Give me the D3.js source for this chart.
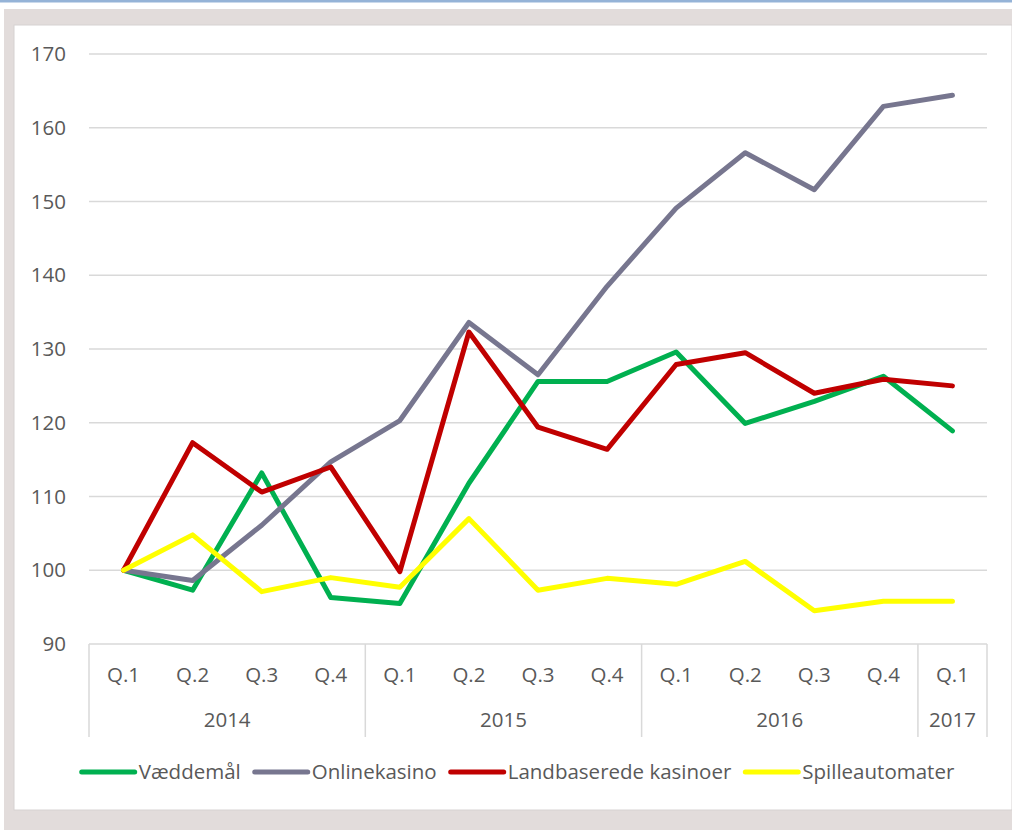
<!DOCTYPE html>
<html>
<head>
<meta charset="utf-8">
<script src="https://cdn.jsdelivr.net/npm/d3@7"></script>
<style>
  body { margin: 0; background: #fff; }
  svg { display: block; font-family: "Open Sans", "Noto Sans", sans-serif; }
</style>
</head>
<body>
<div id="chart"></div>
<script>
// DATA
const quarters = ['Q.1', 'Q.2', 'Q.3', 'Q.4', 'Q.1', 'Q.2', 'Q.3', 'Q.4', 'Q.1', 'Q.2', 'Q.3', 'Q.4', 'Q.1'];
const years = ['2014', '2015', '2016', '2017'];
const yearSpans = [4, 4, 4, 1];
const yTicks = [90, 100, 110, 120, 130, 140, 150, 160, 170];

const vaeddemaal = [100, 97.3, 113.2, 96.3, 95.5, 111.8, 125.6, 125.6, 129.6, 119.9, 122.9, 126.3, 118.9];
const onlinekasino = [100, 98.6, 106.1, 114.7, 120.3, 133.6, 126.5, 138.5, 149.1, 156.6, 151.6, 162.9, 164.4];
const landbaserede = [100, 117.3, 110.6, 114.0, 99.8, 132.3, 119.4, 116.4, 127.9, 129.5, 124.0, 125.9, 125.0];
const spilleautomater = [100, 104.8, 97.1, 99.0, 97.7, 107.0, 97.3, 98.9, 98.1, 101.2, 94.5, 95.8, 95.8];

const seriesNames = ['Væddemål', 'Onlinekasino', 'Landbaserede kasinoer', 'Spilleautomater'];
const seriesColors = ['#00b050', '#77768f', '#c00000', '#ffff00'];
const seriesValues = [vaeddemaal, onlinekasino, landbaserede, spilleautomater];

// SIZES
const width = 1012;
const height = 830;
const plotLeft = 89, plotRight = 987, plotTop = 54, plotBottom = 644;
const fontSize = 20.5;
const textColor = '#595959';

const svg = d3.select('#chart').append('svg')
  .attr('width', width)
  .attr('height', height);

// FRAME
svg.append('rect').attr('x', 0).attr('y', 0).attr('width', width).attr('height', 2.5).attr('fill', '#95b3d7');
svg.append('rect').attr('x', 4).attr('y', 9).attr('width', width - 4).attr('height', height - 9).attr('fill', '#e2dcdb');
svg.append('rect').attr('x', 14).attr('y', 25).attr('width', width - 14).attr('height', 785)
  .attr('fill', '#fff').attr('stroke', '#d6d2d2').attr('stroke-width', 1);

// SCALES
const idx = quarters.map((q, i) => i);
const x = d3.scaleBand().domain(idx).range([plotLeft, plotRight]).padding(0);
const y = d3.scaleLinear().domain([90, 170]).range([plotBottom, plotTop]);

// GRID
svg.append('g').selectAll('line')
  .data(yTicks.filter(t => t > 90))
  .enter().append('line')
  .attr('x1', plotLeft).attr('x2', plotRight)
  .attr('y1', d => y(d)).attr('y2', d => y(d))
  .attr('stroke', '#d9d9d9').attr('stroke-width', 1.5);

// Y AXIS LABELS
svg.append('g').selectAll('text')
  .data(yTicks)
  .enter().append('text')
  .attr('x', 66)
  .attr('y', d => y(d))
  .attr('dy', '0.35em')
  .attr('text-anchor', 'end')
  .attr('font-size', fontSize)
  .attr('fill', textColor)
  .text(d => d);

// X AXIS (two levels)
const axis = svg.append('g');
axis.append('line')
  .attr('x1', plotLeft).attr('x2', plotRight)
  .attr('y1', y(90)).attr('y2', y(90))
  .attr('stroke', '#d9d9d9').attr('stroke-width', 1.5);

let start = 0;
const bounds = [0];
yearSpans.forEach(s => { start += s; bounds.push(start); });

axis.selectAll('line.div')
  .data(bounds)
  .enter().append('line')
  .attr('class', 'div')
  .attr('x1', d => d < idx.length ? x(d) : plotRight)
  .attr('x2', d => d < idx.length ? x(d) : plotRight)
  .attr('y1', y(90)).attr('y2', 737)
  .attr('stroke', '#d9d9d9').attr('stroke-width', 1.5);

axis.selectAll('text.q')
  .data(quarters)
  .enter().append('text')
  .attr('class', 'q')
  .attr('x', (d, i) => x(i) + x.bandwidth() / 2)
  .attr('y', 675)
  .attr('dy', '0.35em')
  .attr('text-anchor', 'middle')
  .attr('font-size', fontSize)
  .attr('fill', textColor)
  .text(d => d);

axis.selectAll('text.yr')
  .data(years)
  .enter().append('text')
  .attr('class', 'yr')
  .attr('x', (d, i) => {
    const a = x(bounds[i]);
    const b = bounds[i + 1] < idx.length ? x(bounds[i + 1]) : plotRight;
    return (a + b) / 2;
  })
  .attr('y', 720)
  .attr('dy', '0.35em')
  .attr('text-anchor', 'middle')
  .attr('font-size', fontSize)
  .attr('fill', textColor)
  .text(d => d);

// LINES
const line = d3.line()
  .x((d, i) => x(i) + x.bandwidth() / 2)
  .y(d => y(d));

svg.append('g').selectAll('path')
  .data(seriesValues)
  .enter().append('path')
  .attr('d', d => line(d))
  .attr('fill', 'none')
  .attr('stroke', (d, i) => seriesColors[i])
  .attr('stroke-width', 5)
  .attr('stroke-linejoin', 'round')
  .attr('stroke-linecap', 'round');

// LEGEND
const legend = svg.append('g');
const sampleLen = 53;
const gap = 14;
const items = legend.selectAll('g')
  .data(seriesNames)
  .enter().append('g');

items.append('line')
  .attr('x1', 0).attr('x2', sampleLen)
  .attr('y1', 0).attr('y2', 0)
  .attr('stroke', (d, i) => seriesColors[i])
  .attr('stroke-width', 5)
  .attr('stroke-linecap', 'round');

items.append('text')
  .attr('x', sampleLen + 4)
  .attr('y', 0)
  .attr('dy', '0.35em')
  .attr('font-size', fontSize)
  .attr('fill', textColor)
  .text(d => d);

let offsets = [];
let total = 0;
items.each(function() {
  const w = sampleLen + 4 + d3.select(this).select('text').node().getComputedTextLength();
  offsets.push(total);
  total += w + gap;
});
total -= gap;
const legendStart = 518 - total / 2;
items.attr('transform', (d, i) => `translate(${legendStart + offsets[i]}, 772)`);
</script>
</body>
</html>
